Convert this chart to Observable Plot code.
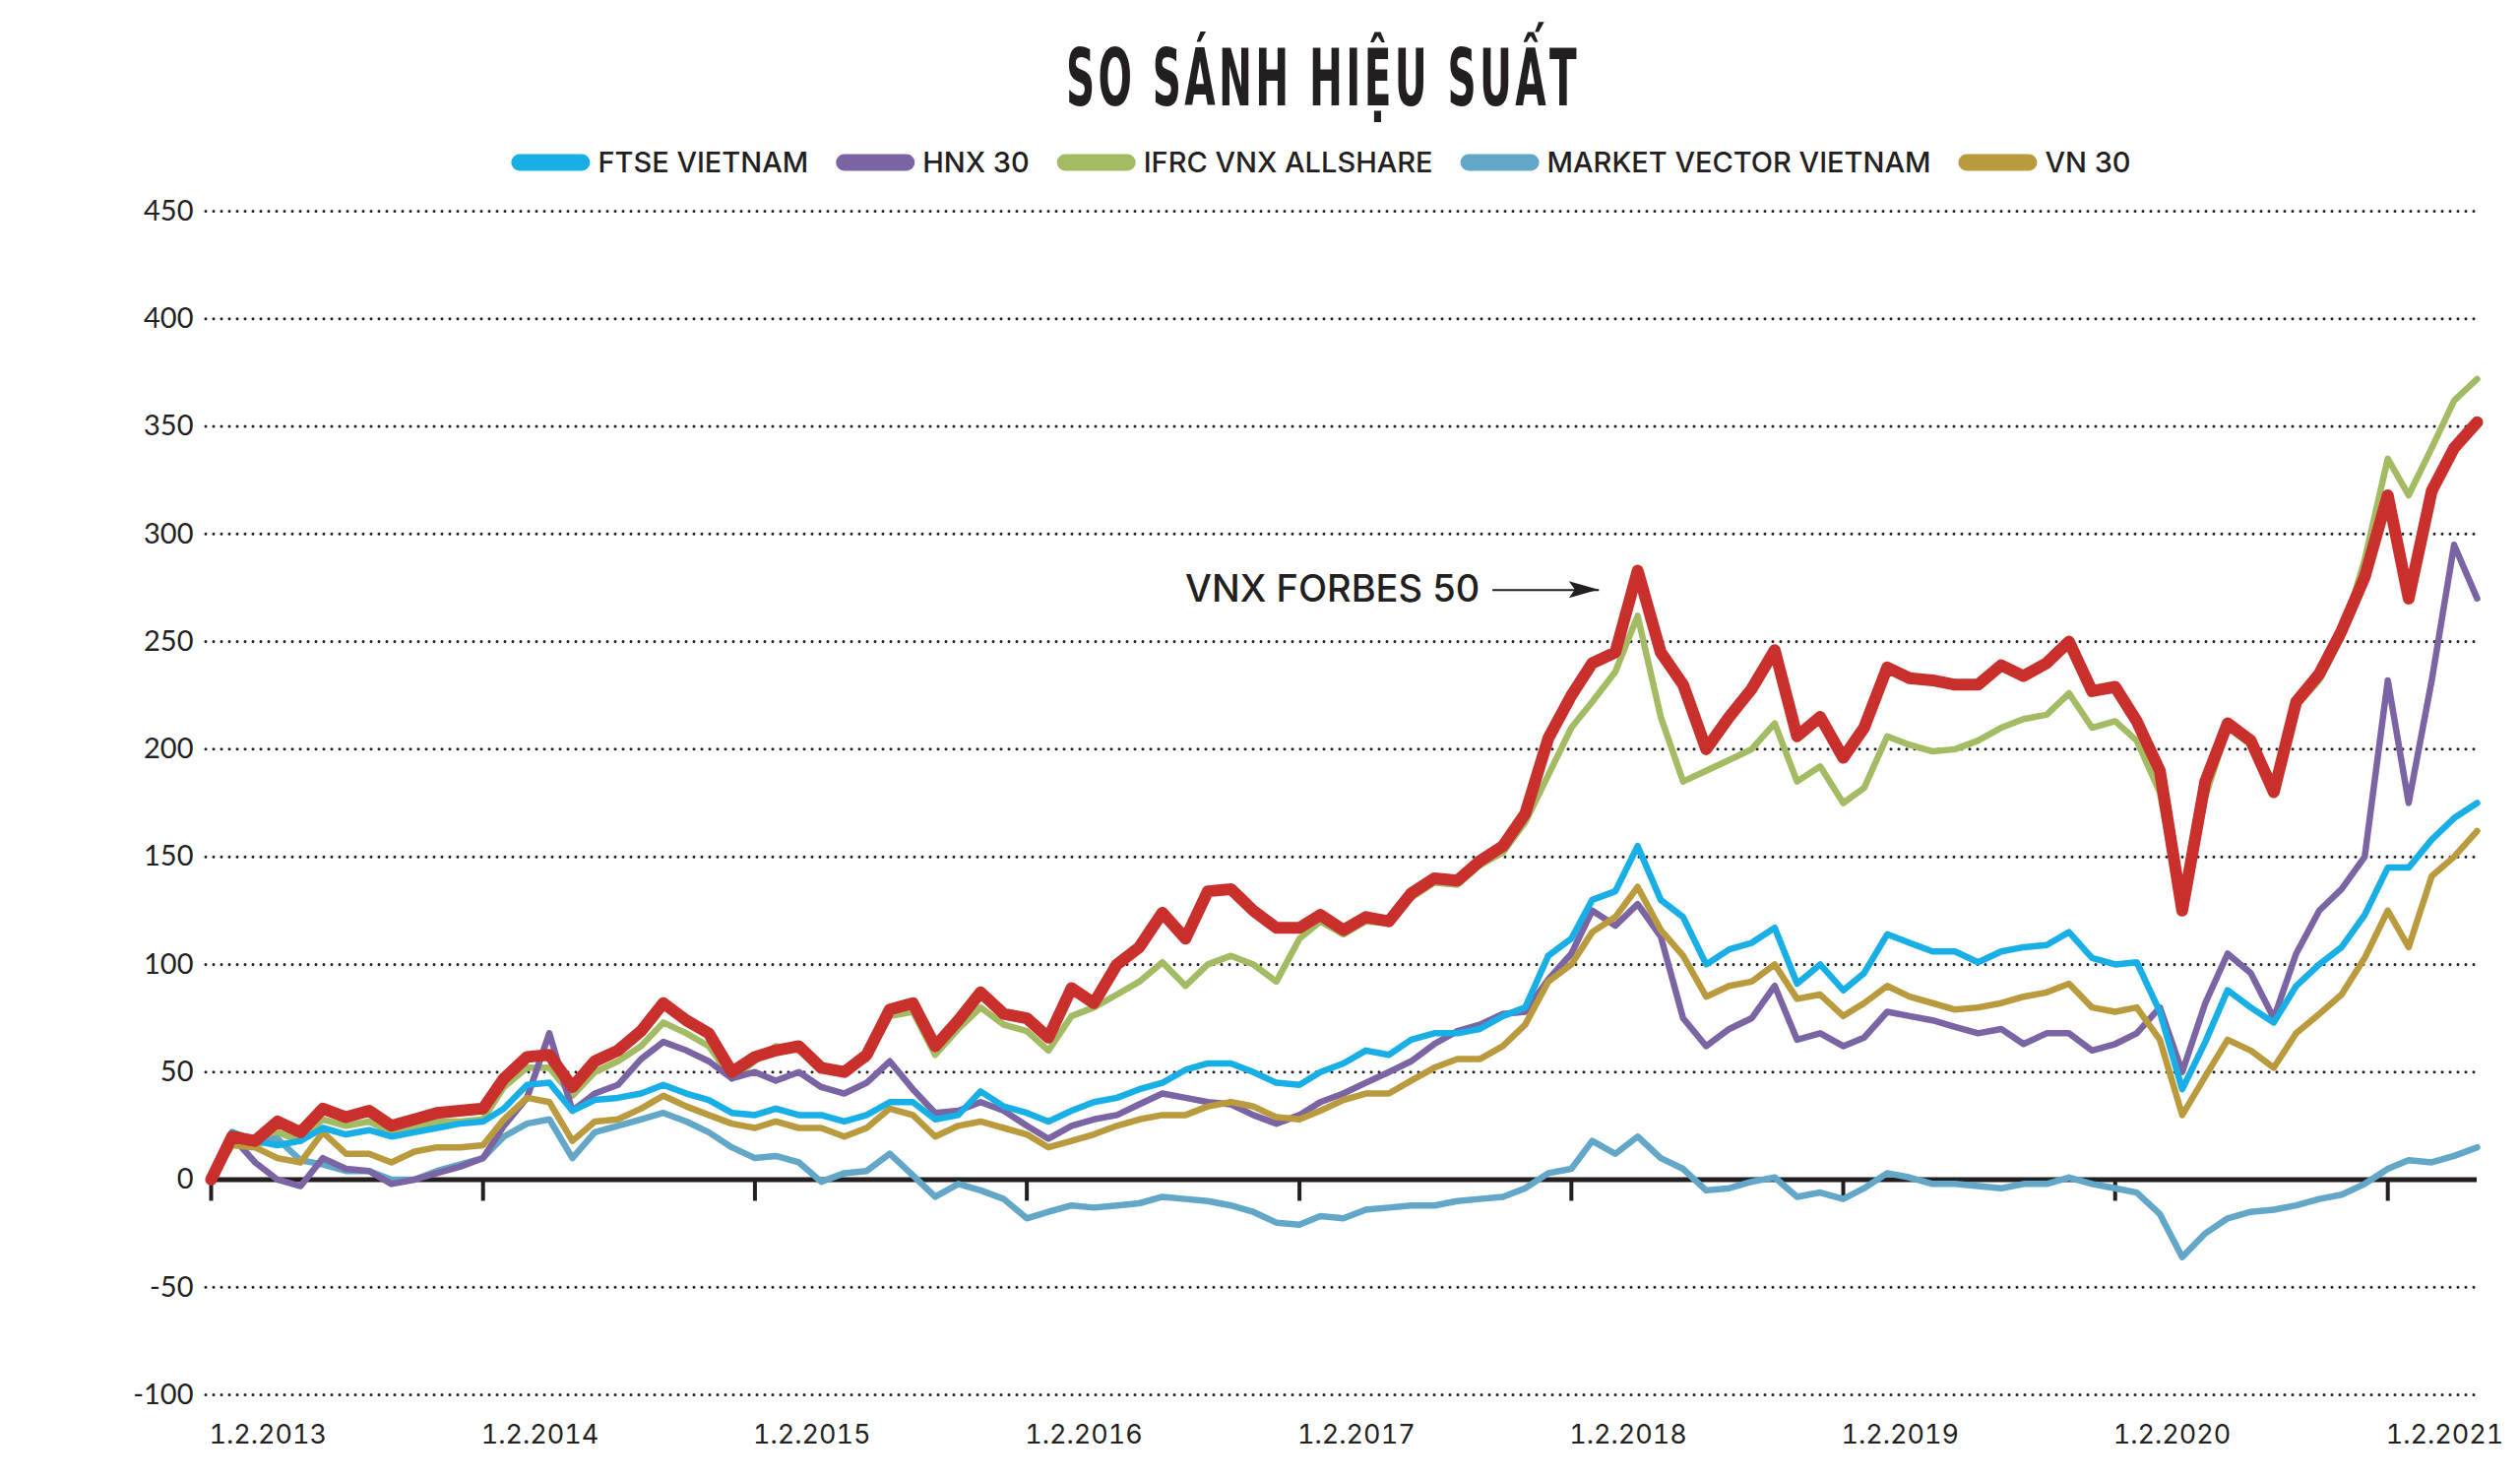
<!DOCTYPE html>
<html>
<head>
<meta charset="utf-8">
<script src="https://cdn.jsdelivr.net/npm/d3@7"></script>
<script src="https://cdn.jsdelivr.net/npm/@observablehq/plot@0.6"></script>
<style>
  html, body { margin: 0; padding: 0; background: #fff; }
  #page { position: relative; width: 2560px; height: 1502px; overflow: hidden; background: #fff; }
  #header { position: absolute; left: 0; top: 0; }
  #chart { position: absolute; left: 0; top: 190px; }
  #chart svg text, #header text { font-feature-settings: "calt" 0; font-variant-ligatures: none; }
</style>
</head>
<body>
<div id="page">
  <svg id="header" width="2560" height="190"></svg>
  <div id="chart"></div>
</div>
<script>
// ---------- DATA (monthly readings, 1 Feb 2013 ... 1 Jun 2021) ----------
const titleText = "SO SÁNH HIỆU SUẤT";

const seriesNames  = ["FTSE VIETNAM", "HNX 30", "IFRC VNX ALLSHARE", "MARKET VECTOR VIETNAM", "VN 30", "VNX FORBES 50"];
const seriesColors = ["#17afe6", "#7a64a3", "#a3bb63", "#62a7c7", "#b99a3d", "#c92f2b"];
const legendNames  = ["FTSE VIETNAM", "HNX 30", "IFRC VNX ALLSHARE", "MARKET VECTOR VIETNAM", "VN 30"];

const ftseVietnam = [0,22,18,16,18,24,21,23,20,22,24,26,27,33,44,45,32,37,38,40,44,40,37,31,30,33,30,30,27,30,36,36,28,30,41,34,31,27,32,36,38,42,45,51,54,54,50,45,44,50,54,60,58,65,68,68,70,76,80,104,112,130,134,155,130,122,100,107,110,117,91,100,88,96,114,110,106,106,101,106,108,109,115,103,100,101,78,42,64,88,80,73,90,100,108,123,145,145,158,168,175];
const hnx30 = [0,20,8,0,-3,10,5,4,-2,0,3,6,10,25,38,68,32,40,44,56,64,60,55,47,50,46,50,43,40,45,55,42,31,32,36,32,25,19,25,28,30,35,40,38,36,35,30,26,30,36,40,45,50,55,63,69,72,77,78,93,105,125,118,128,113,75,62,70,75,90,65,68,62,66,78,76,74,71,68,70,63,68,68,60,63,68,80,50,82,105,96,75,105,125,135,150,232,175,232,295,270];
const ifrcVnxAllshare = [0,17,15,22,18,28,25,27,22,24,27,27,28,43,52,52,39,50,55,62,73,68,62,47,55,62,60,53,50,56,76,78,58,70,80,72,69,60,76,80,86,92,101,90,100,104,100,92,112,120,114,120,119,131,138,137,146,152,166,188,210,222,236,262,215,185,190,195,200,212,185,192,175,182,206,202,199,200,204,210,214,216,226,210,213,204,180,125,178,210,202,185,220,232,252,288,335,318,340,362,372];
const marketVectorVietnam = [0,22,18,19,9,7,4,4,0,0,4,7,10,20,26,28,10,22,25,28,31,27,22,15,10,11,8,-1,3,4,12,2,-8,-2,-5,-9,-18,-15,-12,-13,-12,-11,-8,-9,-10,-12,-15,-20,-21,-17,-18,-14,-13,-12,-12,-10,-9,-8,-4,3,5,18,12,20,10,5,-5,-4,-1,1,-8,-6,-9,-4,3,1,-2,-2,-3,-4,-2,-2,1,-2,-4,-6,-16,-36,-25,-18,-15,-14,-12,-9,-7,-2,5,9,8,11,15];
const vn30 = [0,16,15,10,8,22,12,12,8,13,15,15,16,28,38,36,18,27,28,33,39,34,30,26,24,27,24,24,20,24,33,30,20,25,27,24,21,15,18,21,25,28,30,30,34,36,34,29,28,32,37,40,40,46,52,56,56,62,72,92,100,115,122,136,116,104,85,90,92,100,84,86,76,82,90,85,82,79,80,82,85,87,91,80,78,80,65,30,48,65,60,52,68,77,86,103,125,108,141,150,162];
const vnxForbes50 = [0,20,18,27,22,33,29,32,25,28,31,32,33,47,57,58,43,55,60,69,82,74,68,50,57,60,62,52,50,58,79,82,62,74,87,77,75,66,89,82,100,108,124,112,134,135,125,117,117,123,116,122,120,133,140,139,148,155,170,205,225,240,245,283,245,230,200,215,228,246,206,215,196,210,238,233,232,230,230,239,234,240,250,227,229,213,190,125,185,212,204,180,222,235,255,280,318,270,320,340,352];

const yTicks = [-100, -50, 0, 50, 100, 150, 200, 250, 300, 350, 400, 450];
const tickYears = [2013, 2014, 2015, 2016, 2017, 2018, 2019, 2020, 2021];
const annotation = [{label: "VNX FORBES 50", textEnd: "2017-10-01", arrowStart: "2017-10-18", arrowEnd: "2018-03-10", value: 274}];

// ---------- BUILD ----------
const startMonth = new Date(Date.UTC(2013, 1, 1));
const months = d3.utcMonth.range(startMonth, d3.utcMonth.offset(startMonth, vnxForbes50.length));
const seriesValues = [ftseVietnam, hnx30, ifrcVnxAllshare, marketVectorVietnam, vn30, vnxForbes50];
const colorOf = Object.fromEntries(seriesNames.map((n, i) => [n, seriesColors[i]]));
const rowsOf = (name) => {
  const vals = seriesValues[seriesNames.indexOf(name)];
  return vals.map((v, i) => ({name, date: months[i], value: v}));
};
const tickDates = tickYears.map(y => new Date(Date.UTC(y, 1, 1)));
const gridValues = yTicks.filter(v => v !== 0);
const annot = annotation.map(a => ({...a, textEnd: new Date(a.textEnd), arrowStart: new Date(a.arrowStart), arrowEnd: new Date(a.arrowEnd)}));

const drawOrder = ["IFRC VNX ALLSHARE", "MARKET VECTOR VIETNAM", "HNX 30", "VN 30", "FTSE VIETNAM", "VNX FORBES 50"];
const ink = "#231f20";

const lineMarks = drawOrder.map(name => Plot.line(rowsOf(name), {
  x: "date", y: "value", stroke: colorOf[name],
  strokeWidth: name === "VNX FORBES 50" ? 12 : 6.5,
  strokeLinejoin: "round", strokeLinecap: "round"
}));

const plot = Plot.plot({
  width: 2560, height: 1312,
  marginLeft: 214, marginRight: 44, marginTop: 24, marginBottom: 86,
  x: {type: "utc", domain: [months[0], months[months.length - 1]], label: null},
  y: {domain: [-100, 450], label: null},
  style: {fontFamily: "Inter, 'Noto Sans', sans-serif", color: ink, background: "#fff", overflow: "visible"},
  marks: [
    Plot.ruleY(gridValues, {stroke: ink, strokeWidth: 3, strokeDasharray: "0,8", strokeLinecap: "round", insetLeft: -5}),
    Plot.ruleY([0], {stroke: ink, strokeWidth: 5}),
    Plot.ruleX(tickDates, {x: d => d, y1: 0, y2: 0, insetBottom: -22, stroke: ink, strokeWidth: 4}),
    Plot.axisY({ticks: yTicks, tickSize: 0, tickPadding: 18, fontSize: 29, fontFamily: "Lato, 'Noto Sans', sans-serif",
                tickFormat: d => String(d), label: null}),
    Plot.axisX({ticks: tickDates, tickSize: 0, tickPadding: 30, fontSize: 27, textAnchor: "start", dx: -2,
                tickFormat: d => `1.2.${d.getUTCFullYear()}`, label: null}),
    ...lineMarks,
    Plot.link(annot, {x1: "arrowStart", x2: "arrowEnd", y1: "value", y2: "value", stroke: ink, strokeWidth: 2}),
    Plot.text(annot, {x: "textEnd", y: "value", text: "label", textAnchor: "end", lineAnchor: "middle",
                      fontSize: 38, fontWeight: 500, fill: ink})
  ]
});
document.getElementById("chart").appendChild(plot);

// arrowhead at the end of the annotation arrow (positioned through the plot's scales)
try {
  const sx = plot.scale("x"), sy = plot.scale("y");
  const a = annot[0];
  const ax = sx.apply(a.arrowEnd), ay = sy.apply(a.value);
  d3.select(plot).append("path")
    .attr("d", `M${ax},${ay}L${ax - 30},${ay - 8.5}L${ax - 24},${ay}L${ax - 30},${ay + 8.5}Z`)
    .attr("fill", ink);
} catch (e) { console.error(e); }

// ---------- HEADER: title + legend ----------
const header = d3.select("#header");
header.append("text")
  .attr("x", 1344).attr("y", 107)
  .attr("text-anchor", "middle")
  .attr("font-family", "'DejaVu Sans Condensed', 'DejaVu Sans', sans-serif")
  .attr("font-weight", "bold")
  .attr("font-size", 81)
  .attr("letter-spacing", 6)
  .attr("textLength", 522)
  .attr("lengthAdjust", "spacingAndGlyphs")
  .attr("fill", ink)
  .text(titleText);

const lg = header.append("g");
let cursor = 0;
const swW = 80, swH = 17, gapIn = 8, gapOut = 28;
legendNames.forEach(name => {
  const item = lg.append("g").attr("transform", `translate(${cursor},0)`);
  item.append("rect").attr("x", 0).attr("y", 165 - swH / 2).attr("width", swW).attr("height", swH)
    .attr("rx", swH / 2).attr("fill", colorOf[name]);
  const t = item.append("text").attr("x", swW + gapIn).attr("y", 175)
    .attr("font-family", "Inter, 'Noto Sans', sans-serif").attr("font-size", 29).attr("font-weight", 500)
    .attr("fill", ink).text(name);
  cursor += swW + gapIn + t.node().getComputedTextLength() + gapOut;
});
const total = cursor - gapOut;
lg.attr("transform", `translate(${1342 - total / 2},0)`);
</script>
</body>
</html>
